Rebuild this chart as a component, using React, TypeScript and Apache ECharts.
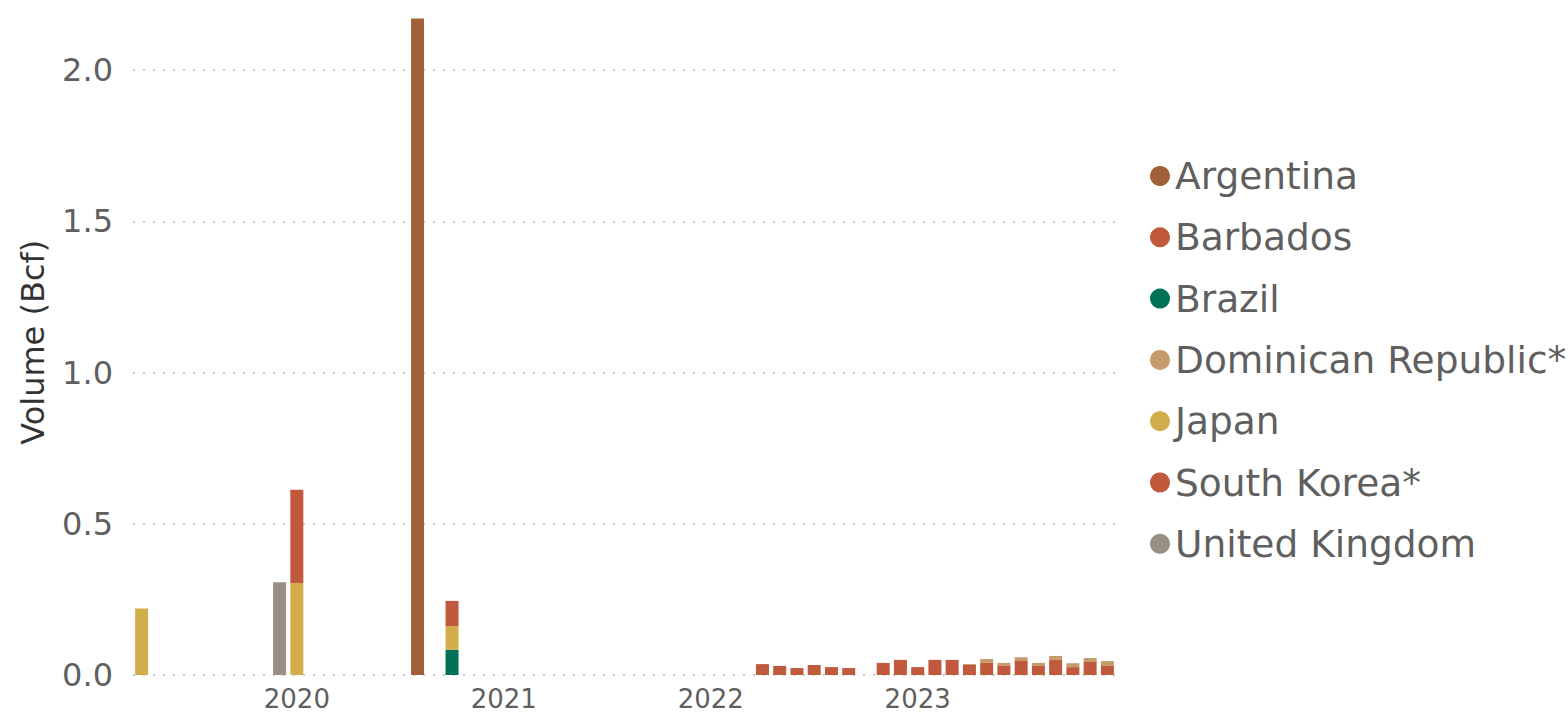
import React, { useEffect, useRef } from "react";
import * as echarts from "echarts";

// Months from Apr 2019 through Dec 2023
const startYear = 2019;
const startMonth = 4;
const endYear = 2023;
const endMonth = 12;
const months: string[] = [];
for (let y = startYear; y <= endYear; y++) {
  for (let m = 1; m <= 12; m++) {
    if (y === startYear && m < startMonth) continue;
    if (y === endYear && m > endMonth) continue;
    months.push(`${y}-${String(m).padStart(2, "0")}`);
  }
}

const countries = [
  "Argentina",
  "Barbados",
  "Brazil",
  "Dominican Republic*",
  "Japan",
  "South Korea*",
  "United Kingdom",
];

const colors = ["#A1603A", "#C1593C", "#007155", "#C59B6C", "#D2AE4A", "#C1593C", "#9A8F84"];

const argentina: [string, number][] = [["2020-08", 2.17]];
const barbados: [string, number][] = [
  ["2022-04", 0.036], ["2022-05", 0.030], ["2022-06", 0.023], ["2022-07", 0.033],
  ["2022-08", 0.026], ["2022-09", 0.023], ["2022-11", 0.040], ["2022-12", 0.050],
  ["2023-01", 0.026], ["2023-02", 0.050], ["2023-03", 0.050], ["2023-04", 0.033],
  ["2023-05", 0.040], ["2023-06", 0.030], ["2023-07", 0.046], ["2023-08", 0.030],
  ["2023-09", 0.050], ["2023-10", 0.026], ["2023-11", 0.043], ["2023-12", 0.030],
];
const brazil: [string, number][] = [["2020-10", 0.083]];
const dominicanRepublic: [string, number][] = [
  ["2023-04", 0.003], ["2023-05", 0.013], ["2023-06", 0.010], ["2023-07", 0.013],
  ["2023-08", 0.010], ["2023-09", 0.013], ["2023-10", 0.013], ["2023-11", 0.013],
  ["2023-12", 0.016],
];
const japan: [string, number][] = [["2019-04", 0.22], ["2020-01", 0.304], ["2020-10", 0.079]];
const southKorea: [string, number][] = [["2020-01", 0.308], ["2020-10", 0.083]];
const unitedKingdom: [string, number][] = [["2019-12", 0.307]];

const seriesValues = [argentina, barbados, brazil, dominicanRepublic, japan, southKorea, unitedKingdom];

const yTicks = [0, 0.5, 1.0, 1.5, 2.0];

const FONT = "DejaVu Sans, Verdana, sans-serif";

export default function App() {
  const ref = useRef<HTMLDivElement>(null);
  useEffect(() => {
    if (!ref.current) return;
    const chart = echarts.init(ref.current, undefined, { renderer: "svg" });
    const series = countries.map((name, i) => {
      const lookup = new Map(seriesValues[i]);
      return {
        name,
        type: "bar",
        stack: "total",
        barWidth: 13,
        itemStyle: { color: colors[i] },
        data: months.map((m) => (lookup.has(m) ? lookup.get(m) : null)),
      };
    });
    chart.setOption({
      animation: false,
      textStyle: { fontFamily: FONT },
      grid: { left: 133, right: 452, top: 9.5, bottom: 37, containLabel: false },
      legend: {
        orient: "vertical",
        left: 1150,
        top: 157,
        padding: 0,
        icon: "circle",
        itemWidth: 20,
        itemHeight: 20,
        itemGap: 23.3,
        data: countries,
        textStyle: { fontSize: 37.5, color: "#5f5f5f", fontFamily: FONT, lineHeight: 36 },
      },
      xAxis: {
        type: "category",
        data: months,
        boundaryGap: true,
        axisLine: { show: false },
        axisTick: { show: false },
        axisLabel: {
          interval: (index: number, value: string) => value.endsWith("-01"),
          formatter: (value: string) => value.slice(0, 4),
          fontSize: 26,
          lineHeight: 20,
          color: "#5f5f5f",
          margin: 14,
          fontFamily: FONT,
        },
        splitLine: { show: false },
      },
      yAxis: {
        type: "value",
        min: 0,
        max: 2.2,
        interval: 0.5,
        name: "Volume (Bcf)",
        nameLocation: "middle",
        nameGap: 84,
        nameTextStyle: { fontSize: 32, color: "#333333", fontFamily: FONT },
        axisLine: { show: false },
        axisTick: { show: false },
        axisLabel: {
          showMaxLabel: false,
          fontSize: 32,
          color: "#5f5f5f",
          margin: 20,
          fontFamily: FONT,
          formatter: (v: number) => (yTicks.some((t) => Math.abs(t - v) < 1e-9) ? v.toFixed(1) : ""),
        },
        splitLine: {
          show: true,
          showMaxLine: false,
          lineStyle: { color: "#c8c8c8", width: 2, type: [2, 8] },
        },
      },
      series,
    });
    return () => chart.dispose();
  }, []);
  return (
    <div
      ref={ref}
      style={{ position: "fixed", left: 0, top: 0, width: 1568, height: 712, background: "#fff" }}
    />
  );
}
